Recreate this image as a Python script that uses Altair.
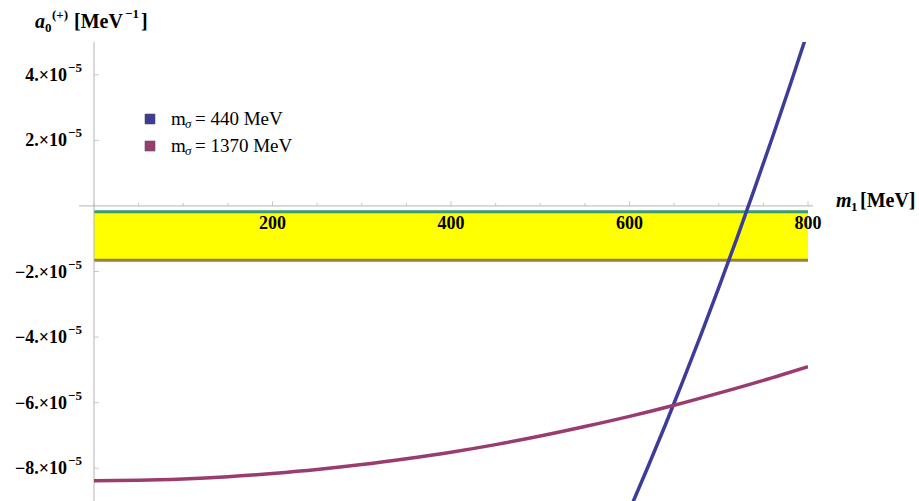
import altair as alt
import pandas as pd

SERIF = "Liberation Serif"
E = 1e-5  # a0 values below are given in units of 1e-5 MeV^-1

# sigma mass of each curve and its colour
series_names = ["m_sigma = 440 MeV", "m_sigma = 1370 MeV"]
series_colors = ["#3d3d99", "#993d71"]

# m_sigma = 440 MeV curve
m1_440 = [600, 620, 640, 660, 680, 700, 720, 740, 760, 780, 800]
a0_440 = [-9.28, -8.00, -6.69, -5.33, -3.93, -2.49, -1.01, 0.52, 2.08, 3.69, 5.34]

# m_sigma = 1370 MeV curve
m1_1370 = [0, 50, 100, 150, 200, 250, 300, 350, 400, 450, 500, 550, 600, 650, 700, 750, 800]
a0_1370 = [-8.38, -8.37, -8.33, -8.26, -8.16, -8.04, -7.89, -7.71, -7.51, -7.28,
           -7.02, -6.73, -6.42, -6.08, -5.71, -5.32, -4.90]

# allowed band for a0
band_m1 = [0, 800]
band_upper = -0.18
band_lower = -1.66

# axis ticks
x_minor_ticks = [0, 50, 100, 150, 250, 300, 350, 450, 500, 550, 650, 700, 750]
x_major_ticks = [200, 400, 600, 800]
x_tick_labels = ["200", "400", "600", "800"]
y_ticks = [4, 2, -2, -4, -6, -8]
y_tick_labels = ["4.\u00d710", "2.\u00d710", "\u22122.\u00d710", "\u22124.\u00d710", "\u22126.\u00d710", "\u22128.\u00d710"]

W, H = 714, 459
xs = alt.Scale(domain=[0, 800], nice=False, zero=False)
ys = alt.Scale(domain=[-9 * E, 5 * E], nice=False, zero=False)

curves = pd.concat([
    pd.DataFrame({"m1": m1_440, "a0": [v * E for v in a0_440], "series": series_names[0]}),
    pd.DataFrame({"m1": m1_1370, "a0": [v * E for v in a0_1370], "series": series_names[1]}),
])
band = pd.DataFrame({"x0": [band_m1[0]], "x1": [band_m1[1]],
                     "top": [band_upper * E], "bottom": [band_lower * E]})
origin = pd.DataFrame({"m1": [0], "a0": [0.0]})
one = pd.DataFrame({"k": [0]})

AXIS_GRAY = "#b4b4b4"

X = lambda f: alt.X(f, scale=xs, axis=None)
Y = lambda f: alt.Y(f, scale=ys, axis=None)

band_rect = alt.Chart(band).mark_rect(color="#ffff00").encode(
    x=X("x0:Q"), x2="x1:Q", y=Y("top:Q"), y2="bottom:Q")
band_top_line = alt.Chart(band).mark_rule(color="#3d9971", strokeWidth=3).encode(
    x=X("x0:Q"), x2="x1:Q", y=Y("top:Q"))
band_bottom_line = alt.Chart(band).mark_rule(color="#99803d", strokeWidth=3).encode(
    x=X("x0:Q"), x2="x1:Q", y=Y("bottom:Q"))

# axis lines through the origin
x_axis_line = alt.Chart(origin).mark_rule(color=AXIS_GRAY, strokeWidth=1).encode(
    x=alt.value(-15), x2=alt.value(W + 5), y=Y("a0:Q"))
y_axis_line = alt.Chart(origin).mark_rule(color=AXIS_GRAY, strokeWidth=1).encode(
    x=X("m1:Q"), y=alt.value(0), y2=alt.value(H))

# x ticks point upward from the axis
xminor_df = pd.DataFrame({"m1": x_minor_ticks, "a0": 0.0})
xmajor_df = pd.DataFrame({"m1": x_major_ticks, "a0": 0.0, "lab": x_tick_labels})
x_minor = alt.Chart(xminor_df).mark_tick(
    orient="vertical", size=3, thickness=1, color=AXIS_GRAY, yOffset=-1.5).encode(
    x=X("m1:Q"), y=Y("a0:Q"))
x_major = alt.Chart(xmajor_df).mark_tick(
    orient="vertical", size=5, thickness=1, color=AXIS_GRAY, yOffset=-2.5).encode(
    x=X("m1:Q"), y=Y("a0:Q"))
x_labels = alt.Chart(xmajor_df).mark_text(
    font=SERIF, fontSize=18, fontWeight="bold", color="black", baseline="middle", dy=18).encode(
    x=X("m1:Q"), y=Y("a0:Q"), text="lab:N")

# y ticks point right from the axis
ytick_df = pd.DataFrame({"a0": [v * E for v in y_ticks], "m1": 0, "lab": y_tick_labels})
y_tick_marks = alt.Chart(ytick_df).mark_tick(
    orient="horizontal", size=5, thickness=1, color=AXIS_GRAY, xOffset=2.5).encode(
    y=Y("a0:Q"), x=X("m1:Q"))
y_labels = alt.Chart(ytick_df).mark_text(
    font=SERIF, fontSize=18, fontWeight="bold", color="black", align="right",
    baseline="middle", dx=-27, dy=1).encode(
    y=Y("a0:Q"), x=X("m1:Q"), text="lab:N")
y_exponents = alt.Chart(ytick_df).mark_text(
    font=SERIF, fontSize=13, fontWeight="bold", color="black", align="left",
    baseline="middle", dx=-26, dy=-7, text="\u22125").encode(
    y=Y("a0:Q"), x=X("m1:Q"))

lines = alt.Chart(curves).mark_line(strokeWidth=3.5, clip=True, interpolate="monotone").encode(
    x=X("m1:Q"), y=Y("a0:Q"),
    color=alt.Color("series:N", scale=alt.Scale(domain=series_names, range=series_colors), legend=None))


def txt(s, x, y, size, style="normal", weight="bold", align="left"):
    return alt.Chart(one).mark_text(
        text=s, font=SERIF, fontSize=size, fontStyle=style, fontWeight=weight,
        align=align, baseline="alphabetic", color="black").encode(
        x=alt.value(x), y=alt.value(y))


# y axis title: a_0^(+) [MeV^-1]
y_title = [
    txt("a", -59, -14, 20, style="italic"),
    txt("0", -49, -10, 13),
    txt("(+)", -42, -23, 13),
    txt("[MeV", -20, -14, 20),
    txt("\u22121", 31, -24, 13),
    txt("]", 47, -14, 20),
]

# x axis title: m_1 [MeV]
x_title = [
    txt("m", 742, 165, 20, style="italic"),
    txt("1", 757, 169, 13),
    txt("[MeV]", 766, 165, 20),
]

# legend
legend = []
for i, (name, col) in enumerate(zip(series_names, series_colors)):
    yc = 77 + 27 * i
    legend.append(alt.Chart(one).mark_square(size=100, color=col, opacity=1,
                                             stroke="#555555", strokeWidth=0.6).encode(
        x=alt.value(56), y=alt.value(yc)))
    legend.append(txt("m", 77, yc + 6, 19, weight="normal"))
    legend.append(txt("\u03c3", 91, yc + 9, 13, style="italic", weight="normal"))
    legend.append(txt("= " + name.split("= ")[1], 101, yc + 6, 19, weight="normal"))

chart = alt.layer(
    band_rect, band_top_line, band_bottom_line,
    x_axis_line, y_axis_line, x_minor, x_major, y_tick_marks,
    x_labels, y_labels, y_exponents,
    lines,
    *y_title, *x_title, *legend,
).properties(
    width=W, height=H,
    background="white",
    autosize=alt.AutoSizeParams(type="none"),
    padding={"left": 94, "top": 42, "right": 111, "bottom": 0},
).configure_view(stroke=None)

chart.save("out.html", embed_options={"renderer": "svg", "actions": False})
